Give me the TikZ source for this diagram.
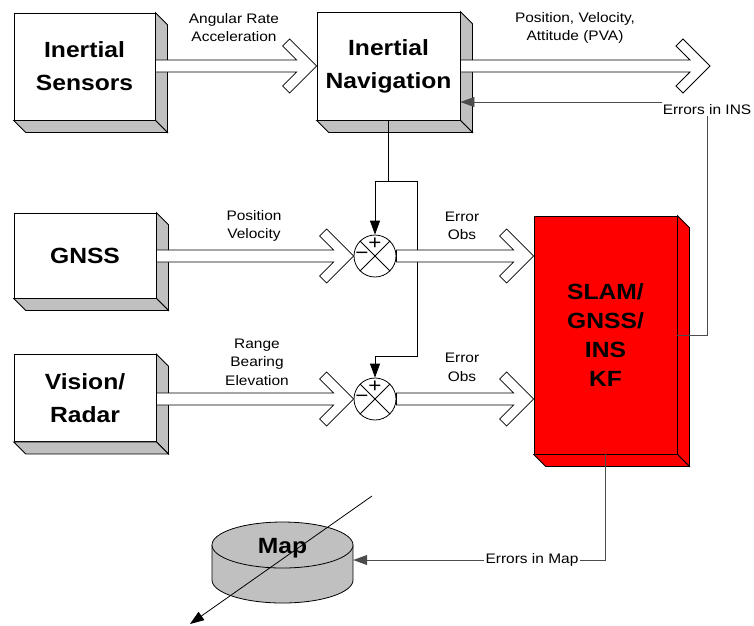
\documentclass[tikz,border=0pt]{standalone}
\usepackage{fontspec}
\setmainfont[FakeStretch=1.12]{Liberation Sans}
\usetikzlibrary{arrows.meta,calc}
\definecolor{slabgray}{HTML}{C0C0C0}
\definecolor{kfred}{HTML}{FF0000}
\tikzset{
  blockbox/.style={draw,fill=white,line width=0.8pt,inner sep=0pt,align=center,
    font=\bfseries\fontsize{22}{33}\selectfont},
  slabface/.style={draw,line width=0.8pt,fill=slabgray},
  fatline/.style={draw,fill=white,line width=0.8pt},
  sumnode/.style={circle,draw,fill=white,line width=0.8pt,minimum size=42pt,inner sep=0pt},
  sigline/.style={line width=0.8pt},
  fbline/.style={line width=0.8pt,draw=black!70},
  tagtext/.style={font=\fontsize{13.8}{18.5}\selectfont,align=center,inner sep=1pt},
  sgnmark/.style={font=\fontsize{20}{20}\selectfont,inner sep=0pt},
  tipArrow/.style={-{Triangle[length=14pt,width=10pt]}}
}
% depth faces of a block
\newcommand{\slabdepth}[2]{%
  \filldraw[slabface,#2] (#1.north east) -- ++(12,12) -- ([shift={(12,12)}]#1.south east) -- (#1.south east) -- cycle;
  \filldraw[slabface,#2] (#1.south west) -- ++(12,12) -- ([shift={(12,12)}]#1.south east) -- (#1.south east) -- cycle;}
% hollow arrow, horizontal, tip at #2
\newcommand{\fatarrow}[2]{%
  \draw[fatline] let \p1=(#1), \p2=(#2) in
    (\x2,\y2) -- ({\x2-27pt},{\y2+27pt}) -- ({\x2-34pt},{\y2+20pt}) -- ({\x2-20pt},{\y2+6pt})
    -- (\x1,{\y2+6pt}) -- (\x1,{\y2-6pt}) -- ({\x2-20pt},{\y2-6pt}) -- ({\x2-34pt},{\y2-20pt})
    -- ({\x2-27pt},{\y2-27pt}) -- cycle;}

\begin{document}
\begin{tikzpicture}[x=1pt,y=-1pt]
  \useasboundingbox (0,0) rectangle (754,625);

  % blocks
  \node[blockbox,minimum width=141pt,minimum height=107pt] (IS) at (84.5,66.5) {Inertial\\Sensors};
  \node[blockbox,minimum width=143pt,minimum height=108pt] (IN) at (388.5,66) {Inertial\\Navigation};
  \node[blockbox,minimum width=142pt,minimum height=85pt] (GNSS) at (85,255.5) {GNSS};
  \node[blockbox,minimum width=142pt,minimum height=87pt] (VR) at (85,398) {Vision/\\Radar};
  \node[blockbox,fill=kfred,minimum width=143pt,minimum height=238pt,
        font=\bfseries\fontsize{22}{29}\selectfont] (KF) at (605.5,335) {SLAM/\\GNSS/\\INS\\KF};
  \slabdepth{IS}{}
  \slabdepth{IN}{}
  \slabdepth{GNSS}{}
  \slabdepth{VR}{}
  \slabdepth{KF}{fill=kfred}

  % sum junctions
  \node[sumnode] (S1) at (375,256) {};
  \node[sumnode] (S2) at (375,399) {};
  \draw[sigline] (S1.north east) -- (S1.south west) (S1.north west) -- (S1.south east);
  \draw[sigline] (S2.north east) -- (S2.south west) (S2.north west) -- (S2.south east);
  \node[sgnmark] (S1p) at ([yshift=12pt]S1.center) {+};
  \node[sgnmark] (S1m) at ([xshift=-13pt]S1.center) {−};
  \node[sgnmark] (S2p) at ([yshift=12pt]S2.center) {+};
  \node[sgnmark] (S2m) at ([xshift=-13pt]S2.center) {−};

  % feedback from navigation
  \coordinate (fbL) at (375,181);
  \coordinate (fbR) at (417,181);
  \draw[sigline] (IN.south) -- (IN.south |- fbL);
  \draw[sigline,tipArrow] (fbL) -- (S1.north);
  \draw[sigline,tipArrow] (fbL) -- (fbR) -- (417,356) -| (S2.north);

  % map
  \node[inner sep=0pt,minimum width=141pt,minimum height=83pt] (mapdb) at (282.5,561.5) {};
  \fill[slabgray] (212,545) rectangle (353,580);
  \fill[slabgray] (282.5,580) ellipse[x radius=70.5,y radius=23];
  \draw[sigline] (212,545) -- (212,580) arc[start angle=180,end angle=0,x radius=70.5,y radius=23] -- (353,545);
  \filldraw[slabface] (282.5,545) ellipse[x radius=70.5,y radius=23];
  \node[font=\bfseries\fontsize{22}{25}\selectfont,inner sep=0pt] (Map) at (282.5,548) {Map};
  \coordinate (dA) at (372,496);
  \coordinate (dB) at (190,624);
  \draw[sigline,tipArrow] (dA) -- (dB);

  % error feedback
  \node[tagtext] (eINS) at (707,110) {Errors in INS};
  \node[tagtext] (eMap) at (532,560) {Errors in Map};
  \draw[fbline,tipArrow] ([yshift=8pt]eINS.west) -- (IN.east |- 0,102);
  \draw[fbline] (eINS.south) |- (KF.east);
  \draw[fbline] (KF.south) |- (eMap.east);
  \draw[fbline,tipArrow] (eMap.west) -- (mapdb.east |- eMap.west);

  % hollow signal arrows
  \coordinate (PVA) at (710,66);
  \fatarrow{IS.east}{IN.west}
  \fatarrow{IN.east}{PVA}
  \fatarrow{GNSS.east}{S1.west}
  \fatarrow{VR.east}{S2.west}
  \fatarrow{S1.east}{KF.west |- S1.east}
  \fatarrow{S2.east}{KF.west |- S2.east}

  % labels
  \node[tagtext] (lAng) at (234,27.5) {Angular Rate\\Acceleration};
  \node[tagtext] (lPVA) at (575,28) {Position, Velocity,\\Attitude (PVA)};
  \node[tagtext] (lPV) at (254,226) {Position\\Velocity};
  \node[tagtext] (lRBE) at (257,362) {Range\\Bearing\\Elevation};
  \node[tagtext] (lEO1) at (462,226) {Error\\Obs};
  \node[tagtext] (lEO2) at (462,367.5) {Error\\Obs};
\end{tikzpicture}
\end{document}
